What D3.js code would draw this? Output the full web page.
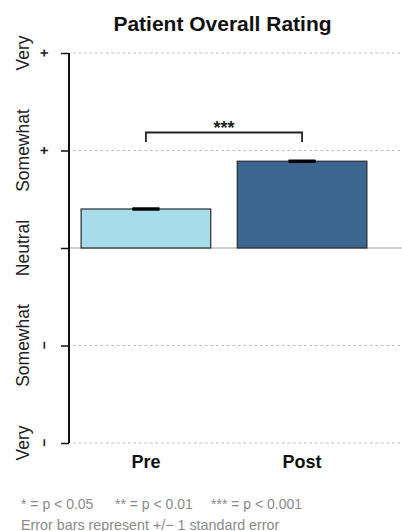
<!DOCTYPE html>
<html><head><meta charset="utf-8">
<script src="https://cdn.jsdelivr.net/npm/d3@7"></script>
<style>body{margin:0;background:#fff}svg{display:block}</style>
</head><body><svg id="c" width="402" height="531"></svg>
<script>
const categories = ["Pre", "Post"];
const values = [0.40, 0.89];
const stdErrors = [0.01, 0.01];
const colors = ["#a7dcea", "#3a668f"];
const tickValues = [2, 1, 0, -1, -2];
const tickWords = ["Very", "Somewhat", "Neutral", "Somewhat", "Very"];
const tickSigns = ["+", "+", "", "\u2212", "\u2212"];
const sigLabel = "***";
const sigLegend = ["* = p < 0.05", "** = p < 0.01", "*** = p < 0.001"];
const footNote = "Error bars represent +/\u2212 1 standard error";

const FONT = "Liberation Sans, Arial, Helvetica, sans-serif";
const svg = d3.select("#c");
const y = d3.scaleLinear().domain([-2, 2]).range([443, 53]);
const x = d3.scaleBand().domain(categories).range([78, 370]).paddingInner(0.17).paddingOuter(0.02);

svg.append("text").attr("x", 222.5).attr("y", 31).attr("text-anchor", "middle")
  .attr("font-family", FONT).attr("font-weight", "bold")
  .attr("font-size", 21).attr("fill", "#111").text("Patient Overall Rating");

// gridlines
svg.append("g").selectAll("line").data(tickValues.filter(v => v !== 0)).join("line")
  .attr("x1", 73).attr("x2", 402).attr("y1", d => y(d)).attr("y2", d => y(d))
  .attr("stroke", "#bbb").attr("stroke-width", 1.2).attr("stroke-dasharray", "2.5,3");

// baseline
svg.append("line").attr("x1", 70).attr("x2", 402).attr("y1", y(0)).attr("y2", y(0))
  .attr("stroke", "#cfcfcf").attr("stroke-width", 2);

// axis
const axis = d3.axisLeft(y).tickValues(tickValues).tickSize(8).tickFormat("");
const ag = svg.append("g").attr("transform", "translate(69,0)").call(axis);
ag.select(".domain").attr("stroke", "#111").attr("stroke-width", 2).attr("d", `M0,${y(2)}V${y(-2)}`);
ag.selectAll(".tick line").attr("stroke", "#111").attr("stroke-width", 1.5);

// tick labels (rotated)
const tl = svg.append("g");
tickValues.forEach((v, i) => {
  tl.append("text").attr("transform", `translate(28.5,${y(v)}) rotate(-90)`)
    .attr("text-anchor", "middle").attr("font-family", FONT)
    .attr("font-size", 17.5).attr("fill", "#222").text(tickWords[i]);
  if (tickSigns[i]) {
    tl.append("text").attr("transform", `translate(49,${y(v)}) rotate(-90)`)
      .attr("text-anchor", "middle").attr("font-family", FONT)
      .attr("font-weight", "bold").attr("font-size", 14).attr("fill", "#222").text(tickSigns[i]);
  }
});

// bars
svg.append("g").selectAll("rect").data(categories).join("rect")
  .attr("x", d => x(d)).attr("width", x.bandwidth())
  .attr("y", (d, i) => y(values[i])).attr("height", (d, i) => y(0) - y(values[i]))
  .attr("fill", (d, i) => colors[i]).attr("stroke", "#2a2a2a").attr("stroke-width", 1.2);

// error bars
const eg = svg.append("g");
categories.forEach((c, i) => {
  const cx = x(c) + x.bandwidth() / 2;
  const hi = y(values[i] + stdErrors[i]), lo = y(values[i] - stdErrors[i]);
  eg.append("rect").attr("x", cx - 13.5).attr("width", 27).attr("y", hi).attr("height", lo - hi)
    .attr("fill", "#000");
  eg.append("line").attr("x1", cx - 13.5).attr("x2", cx + 13.5).attr("y1", hi).attr("y2", hi).attr("stroke", "#000").attr("stroke-width", 1.5);
  eg.append("line").attr("x1", cx - 13.5).attr("x2", cx + 13.5).attr("y1", lo).attr("y2", lo).attr("stroke", "#000").attr("stroke-width", 1.5);
});

// significance bracket
const c0 = x(categories[0]) + x.bandwidth() / 2, c1 = x(categories[1]) + x.bandwidth() / 2;
svg.append("path").attr("d", `M${c0},142V132.5H${c1}V142`).attr("fill", "none")
  .attr("stroke", "#222").attr("stroke-width", 1.8);
svg.append("text").attr("x", (c0 + c1) / 2).attr("y", 134).attr("text-anchor", "middle")
  .attr("font-family", FONT).attr("font-weight", "bold")
  .attr("font-size", 18).attr("fill", "#222").text(sigLabel);

// x labels
svg.append("g").selectAll("text").data(categories).join("text")
  .attr("x", d => x(d) + x.bandwidth() / 2).attr("y", 468).attr("text-anchor", "middle")
  .attr("font-family", FONT).attr("font-weight", "bold")
  .attr("font-size", 18).attr("fill", "#111").text(d => d);

// footnote
const legX = [21, 115, 211];
svg.append("g").selectAll("text").data(sigLegend).join("text")
  .attr("x", (d, i) => legX[i]).attr("y", 508.5)
  .attr("font-family", FONT).attr("font-size", 14).attr("fill", "#8a8a8a").text(d => d);
svg.append("text").attr("x", 21).attr("y", 529.5)
  .attr("font-family", FONT).attr("font-size", 14.3).attr("fill", "#8a8a8a").text(footNote);
</script></body></html>
